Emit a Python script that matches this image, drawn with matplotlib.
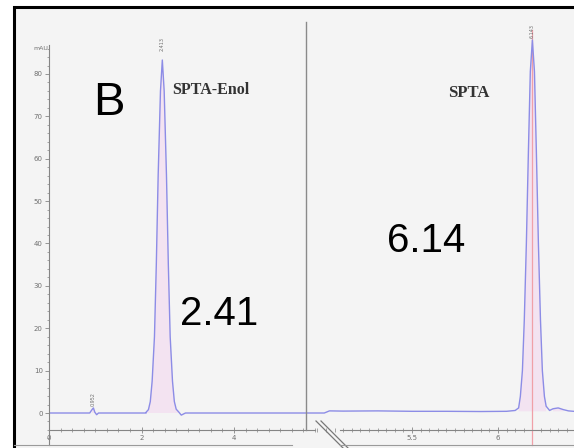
import matplotlib
matplotlib.use("Agg")
import matplotlib.pyplot as plt
from matplotlib.lines import Line2D
from matplotlib.patches import Rectangle
from matplotlib.ticker import MultipleLocator, FixedLocator

# left chromatogram (SPTA-Enol), time in min, signal in mAU
enol_time = [0.00, 0.50, 0.88, 0.93, 0.96, 0.99, 1.03, 1.07, 1.60, 2.10,
             2.10, 2.15, 2.19, 2.23, 2.28, 2.32, 2.36, 2.41, 2.45, 2.49,
             2.54, 2.58, 2.62, 2.67, 2.71, 2.75, 2.80, 2.86, 2.95, 4.00,
             5.00, 5.75]
enol_signal = [0.0, 0.0, 0.0, 0.8, 1.2, 0.2, -0.4, 0.0, 0.0, 0.0,
               0.2, 0.8, 2.7, 7.5, 18.0, 35.0, 56.0, 76.0, 83.3, 76.0,
               56.0, 35.0, 18.0, 7.5, 2.7, 0.9, 0.3, -0.5, 0.0, 0.0,
               0.0, 0.0]

# right chromatogram (SPTA)
spta_time = [4.94, 4.99, 5.02, 5.10, 5.30, 5.50, 5.70, 5.90, 6.05, 6.10,
             6.12, 6.13, 6.142, 6.153, 6.165, 6.177, 6.188, 6.20, 6.212,
             6.223, 6.235, 6.247, 6.258, 6.27, 6.28, 6.30, 6.32, 6.35,
             6.38, 6.41, 6.44]
spta_signal = [0.0, 0.0, 0.5, 0.45, 0.5, 0.4, 0.4, 0.35, 0.4, 0.6,
               1.2, 3.9, 10.0, 22.0, 40.0, 62.0, 80.6, 88.0, 80.6,
               62.0, 40.0, 22.0, 10.0, 3.9, 1.6, 0.6, 1.0, 1.2,
               0.8, 0.5, 0.4]

left_ticks = [0, 2, 4]
left_ticklabels = ["0", "2", "4"]
right_ticks = [5.5, 6.0]
right_ticklabels = ["5.5", "6"]
y_ticks = [0, 10, 20, 30, 40, 50, 60, 70, 80]

W, H = 574, 448
fig = plt.figure(figsize=(W / 100, H / 100), dpi=100)
fig.patch.set_facecolor("white")

def fx(px):
    return px / W

def fy(py):
    return 1 - py / H

# black frame with light grey panel
fig.patches.append(Rectangle((fx(14), fy(452)), fx(570), fy(7) - fy(452),
                             transform=fig.transFigure, facecolor="#f4f4f4",
                             edgecolor="black", linewidth=2.2, zorder=-5))

trace_col = "#8c8ce6"
axis_col = "#858585"
tick_kw = dict(colors=axis_col, labelcolor="#707070", labelsize=5)

ax1 = fig.add_axes([fx(49), fy(445), fx(315 - 49), fy(45) - fy(445)])
ax2 = fig.add_axes([fx(315), fy(445), fx(574 - 315), fy(22) - fy(445)])
for ax in (ax1, ax2):
    ax.set_facecolor("none")
    ax.spines["top"].set_visible(False)
    ax.spines["right"].set_visible(False)
    ax.spines["bottom"].set_position(("data", -4.0))
    ax.spines["bottom"].set_color(axis_col)
    ax.spines["bottom"].set_linewidth(0.8)

ax1.set_xlim(0, 5.751)
ax1.set_ylim(-7.55, 86.84)
ax2.set_xlim(4.936, 6.442)
ax2.set_ylim(-7.55, 92.27)

ax1.spines["left"].set_color(axis_col)
ax1.spines["left"].set_linewidth(0.8)
ax1.yaxis.set_major_locator(FixedLocator(y_ticks))
ax1.yaxis.set_minor_locator(MultipleLocator(2))
ax1.tick_params(axis="y", which="major", length=3, width=0.6, pad=1.5, **tick_kw)
ax1.tick_params(axis="y", which="minor", length=1.5, width=0.5, colors=axis_col)
ax1.text(-0.02, 86.1, "mAU", transform=ax1.transData, ha="right", va="center",
         fontsize=4.5, color="#707070")

ax2.spines["left"].set_visible(False)
ax2.set_yticks([])

ax1.set_xticks(left_ticks)
ax1.set_xticklabels(left_ticklabels)
ax1.xaxis.set_minor_locator(MultipleLocator(0.25))
ax2.set_xticks(right_ticks)
ax2.set_xticklabels(right_ticklabels)
ax2.xaxis.set_minor_locator(MultipleLocator(0.05))
for ax in (ax1, ax2):
    ax.tick_params(axis="x", which="major", direction="inout", length=5,
                   width=0.6, pad=1, **tick_kw)
    ax.tick_params(axis="x", which="minor", direction="inout", length=2.5,
                   width=0.5, colors=axis_col)
ax1.spines["bottom"].set_bounds(0, 5.75)
ax2.spines["bottom"].set_bounds(5.081, 6.442)

# traces
ax1.fill_between(enol_time, 0, enol_signal, where=[s > 0.1 for s in enol_signal],
                 color="#f2c4ee", alpha=0.35, linewidth=0)
ax1.plot(enol_time, enol_signal, color=trace_col, linewidth=1.0)
ax2.fill_between(spta_time, 0.4, spta_signal,
                 where=[s > 0.7 for s in spta_signal],
                 color="#f2c4ee", alpha=0.35, linewidth=0)
ax2.axvline(6.20, ymin=0.0, ymax=0.98, color="#f0a0a8", linewidth=0.9,
            clip_on=False)
ax2.plot(spta_time, spta_signal, color=trace_col, linewidth=1.0)

# small retention time labels above peaks
ax1.text(2.45, 85.5, "2.413", rotation=90, ha="center", va="bottom",
         fontsize=3.5, color="#707070", clip_on=False)
ax1.text(0.95, 1.6, "0.952", rotation=90, ha="center", va="bottom",
         fontsize=3.5, color="#707070")
ax2.text(6.20, 88.5, "6.143", rotation=90, ha="center", va="bottom",
         fontsize=3.5, color="#707070", clip_on=False)

# divider and axis break
fig.lines.append(Line2D([fx(306), fx(306)], [fy(22), fy(430)],
                        transform=fig.transFigure, color="#8a8a8a", linewidth=1.0))
for off in (0, 5):
    fig.lines.append(Line2D([fx(316 + off), fx(344 + off)], [fy(421), fy(449)],
                            transform=fig.transFigure, color="#777777",
                            linewidth=0.9))
fig.lines.append(Line2D([fx(14), fx(292)], [fy(445), fy(445)],
                        transform=fig.transFigure, color="#9a9a9a", linewidth=0.8))
fig.lines.append(Line2D([fx(340), fx(574)], [fy(445), fy(445)],
                        transform=fig.transFigure, color="#9a9a9a", linewidth=0.8))

# labels
fig.text(fx(93), fy(115), "B", fontsize=34, family="Liberation Sans",
         ha="left", va="baseline")
fig.text(fx(180), fy(325), "2.41", fontsize=29, family="Liberation Sans",
         ha="left", va="baseline")
fig.text(fx(387), fy(252), "6.14", fontsize=29, family="Liberation Sans",
         ha="left", va="baseline")
fig.text(fx(172), fy(94), "SPTA-Enol", fontsize=11.5, family="Liberation Serif",
         weight="bold", color="#333333", ha="left", va="baseline")
fig.text(fx(448), fy(97), "SPTA", fontsize=12, family="Liberation Serif",
         weight="bold", color="#333333", ha="left", va="baseline")

fig.savefig("out.png", dpi=100)
